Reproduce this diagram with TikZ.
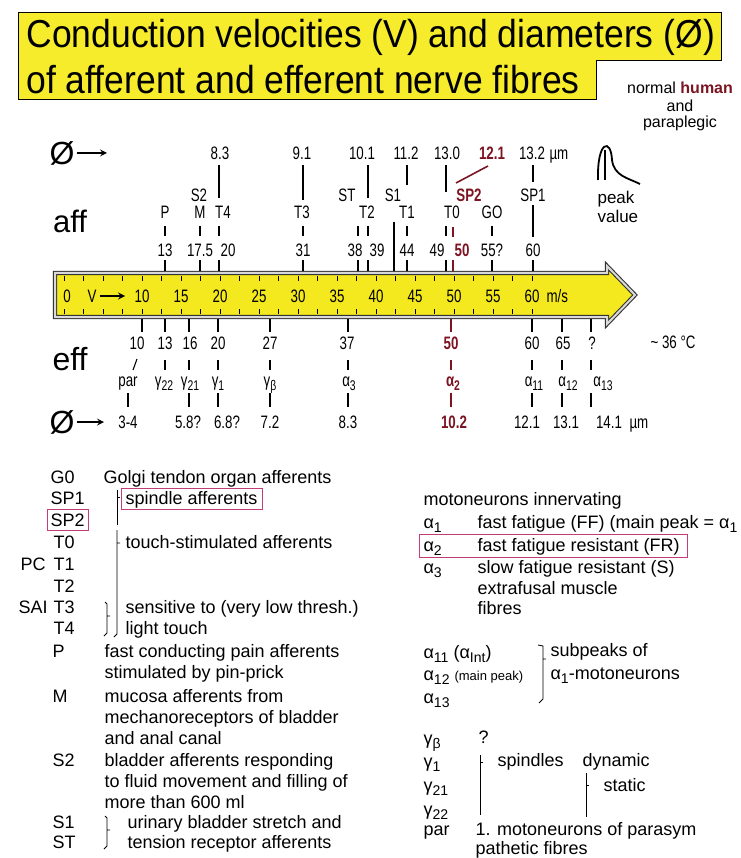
\documentclass[tikz,border=0pt]{standalone}
\usepackage{fontspec}
\setmainfont{Liberation Sans}
\newfontfamily\narrowsf[FakeStretch=0.74]{Liberation Sans}
\newfontfamily\titlesf[FakeStretch=0.91]{Liberation Sans}
\newcommand{\lowsub}[1]{\raisebox{-0.4ex}{\scalebox{0.78}{#1}}}
\definecolor{arrowyellow}{HTML}{F4E81E}
\definecolor{titleyellow}{HTML}{F6EC2C}
\definecolor{hotred}{HTML}{7C1422}
\definecolor{markpink}{HTML}{C23C78}
\tikzset{
  lab/.style={font=\narrowsf\fontsize{18}{18}\selectfont, inner sep=0pt, text height=13pt, text depth=0pt},
  hot/.style={text=hotred, font=\narrowsf\bfseries\fontsize{18}{18}\selectfont},
  leg/.style={font=\fontsize{18}{18}\selectfont, anchor=west, inner sep=0pt, text height=13pt, text depth=0pt},
  hotline/.style={draw=hotred, line width=2.2pt},
  pinkbox/.style={draw=markpink, line width=1pt},
}

\begin{document}
\begin{tikzpicture}[x=1pt,y=-1pt,line width=1.1pt]
\useasboundingbox (0,0) rectangle (740,858);

% title
\filldraw[fill=titleyellow, draw=black, line width=1pt] (18,13) -- (721,13) -- (721,61) -- (596,61) -- (596,100) -- (18,100) -- cycle;
\node[anchor=west, inner sep=0pt, font=\titlesf\fontsize{39}{39}\selectfont] (title1) at (26,37) {Conduction velocities (V) and diameters (Ø)};
\node[anchor=west, inner sep=0pt, font=\titlesf\fontsize{39}{39}\selectfont] (title2) at (26,80) {of afferent and efferent nerve fibres};

\node[font=\fontsize{16}{16}\selectfont] (human) at (680,88) {normal \textbf{\textcolor{hotred}{human}}};
\node[font=\fontsize{16}{16}\selectfont] (and) at (680,106) {and};
\node[font=\fontsize{16}{16}\selectfont] (para) at (680,123) {paraplegic};

% peak symbol
\draw[line width=1.8pt] (598,180) .. controls (597,140) and (611,138) .. (612,160) .. controls (614,176) and (628,178) .. (640,184);
\draw[line width=1.6pt] (605,150) -- (605,180);
\node[anchor=west, inner sep=0pt, font=\fontsize{17}{17}\selectfont] (peak) at (597,199) {peak};
\node[anchor=west, inner sep=0pt, font=\fontsize{17}{17}\selectfont] (value) at (597,216) {value};

% velocity arrow
\filldraw[fill=arrowyellow, draw=black!80, double=white!70!gray, double distance=2pt, line width=1.1pt] (55,273) -- (607,273) -- (607,266) -- (635,295) -- (607,324) -- (607,317) -- (55,317) -- cycle;
\foreach \v in {0,2.5,...,60} {
  \draw[line width=0.8pt] ({64+7.8*\v},276) -- ++(0,5);
  \draw[line width=0.8pt] ({64+7.8*\v},314) -- ++(0,-5);
}
\node[lab] (ax0) at (67,296) {0};
\node[lab] (axV) at (92,296) {V};
\draw[line width=2pt,-stealth] (axV.east) ++(3,0) -- (125,296);
\foreach \v in {10,15,...,60}
  \node[lab] (ax\v) at ({64+7.8*\v},296) {\v};
\node[lab, anchor=west] (axunit) at (546,296) {m/s};

% afferent side
\node[font=\fontsize{31}{31}\selectfont, inner sep=0pt] (aff) at (70,221) {aff};
\node[font=\fontsize{32}{32}\selectfont, inner sep=0pt] (diaA) at (62,153) {Ø};
\draw[line width=2pt,-stealth] (diaA.east) ++(2,0) -- (107,153);

\node[lab] (d83) at (220,153) {8.3};
\node[lab] (d91) at (302,153) {9.1};
\node[lab] (d101) at (362,153) {10.1};
\node[lab] (d112) at (406,153) {11.2};
\node[lab] (d130) at (447,153) {13.0};
\node[lab,hot] (d121) at (492,153) {12.1};
\node[lab] (d132) at (532,153) {13.2};
\node[lab, anchor=west] (dunitA) at (549,153) {µm};

\node[lab] (aS2) at (199,195) {S2};
\node[lab] (aST) at (347,195) {ST};
\node[lab] (aS1) at (393,195) {S1};
\node[lab,hot] (aSP2) at (469,195) {SP2};
\node[lab] (aSP1) at (533,195) {SP1};

\node[lab] (aP) at (165,212) {P};
\node[lab] (aM) at (200,212) {M};
\node[lab] (aT4) at (223,212) {T4};
\node[lab] (aT3) at (302,212) {T3};
\node[lab] (aT2) at (367,212) {T2};
\node[lab] (aT1) at (407,212) {T1};
\node[lab] (aT0) at (452,212) {T0};
\node[lab] (aGO) at (492,212) {GO};

\node[lab] (v13) at (165,250) {13};
\node[lab] (v175) at (200,250) {17.5};
\node[lab] (v20) at (228,250) {20};
\node[lab] (v31) at (303,250) {31};
\node[lab] (v38) at (355,250) {38};
\node[lab] (v39) at (377,250) {39};
\node[lab] (v44) at (407,250) {44};
\node[lab] (v49) at (437,250) {49};
\node[lab,hot] (v50) at (462,250) {50};
\node[lab] (v55) at (492,250) {55?};
\node[lab] (v60) at (533,250) {60};

\draw (219,165) -- (219,198);
\draw (303,165) -- (303,200);
\draw (368,165) -- (368,198);
\draw (407,165) -- (407,185);
\draw (446,165) -- (446,192);
\draw (533,165) -- (533,182);
\draw (533,205) -- (533,237);
\draw (394,222) -- (394,271);
\foreach \x in {165,200,219,303,358,368,407,446,492}
  \draw (\x,226) -- (\x,236);
\foreach \x in {165,200,219,303,358,368,407,446,492,533}
  \draw (\x,260) -- (\x,271);
\draw[hotline] (453,227) -- (453,237) (453,260) -- (453,271);
\draw[hotred, line width=1.6pt] (488,166) -- (456,183);

% efferent side
\node[font=\fontsize{32}{32}\selectfont, inner sep=0pt] (eff) at (70,359) {eff};
\node[font=\fontsize{32}{32}\selectfont, inner sep=0pt] (diaE) at (62,422) {Ø};
\draw[line width=2pt,-stealth] (diaE.east) ++(2,0) -- (104,422);

\node[lab] (e10) at (137,343) {10};
\node[lab] (e13) at (165,343) {13};
\node[lab] (e16) at (190,343) {16};
\node[lab] (e20) at (218,343) {20};
\node[lab] (e27) at (270,343) {27};
\node[lab] (e37) at (347,343) {37};
\node[lab,hot] (e50) at (451,343) {50};
\node[lab] (e60) at (532,343) {60};
\node[lab] (e65) at (563,343) {65};
\node[lab] (eq) at (592,343) {?};
\node[lab] (temp) at (673,342) {\textasciitilde\ 36 °C};

\node[lab] (ePar) at (128,380) {par};
\node[lab] (eG22) at (164,380) {γ\lowsub{22}};
\node[lab] (eG21) at (190,380) {γ\lowsub{21}};
\node[lab] (eG1) at (218,380) {γ\lowsub{1}};
\node[lab] (eGb) at (270,380) {γ\lowsub{β}};
\node[lab] (eA3) at (349,380) {α\lowsub{3}};
\node[lab,hot] (eA2) at (453,380) {α\lowsub{2}};
\node[lab] (eA11) at (534,380) {α\lowsub{11}};
\node[lab] (eA12) at (568,380) {α\lowsub{12}};
\node[lab] (eA13) at (603,380) {α\lowsub{13}};

\node[lab] (f34) at (128,422) {3-4};
\node[lab] (f58) at (188,422) {5.8?};
\node[lab] (f68) at (227,422) {6.8?};
\node[lab] (f72) at (270,422) {7.2};
\node[lab] (f83) at (348,422) {8.3};
\node[lab,hot] (f102) at (454,422) {10.2};
\node[lab] (f121) at (527,422) {12.1};
\node[lab] (f131) at (566,422) {13.1};
\node[lab] (f141) at (609,422) {14.1};
\node[lab, anchor=west] (dunitE) at (629,422) {µm};

\foreach \x in {142,165,189,218,270,348,532,562,591}
  \draw (\x,319) -- (\x,332);
\foreach \x in {165,189,218,270,348,532,562,591}
  \draw (\x,360) -- (\x,370);
\draw (137,359) -- (133,370);
\foreach \x in {128,189,218,270,348,532,562,591}
  \draw (\x,393) -- (\x,407);
\draw[hotline] (451,319) -- (451,332) (451,360) -- (451,370) (451,393) -- (451,407);

% legend, afferents
\node[leg] (kG0) at (50,477) {G0};
\node[leg] (kSP1) at (50,498) {SP1};
\node[leg] (kSP2) at (50,520) {SP2};
\node[leg] (kT0) at (53,542) {T0};
\node[leg] (kPC) at (20,564) {PC};
\node[leg] (kT1) at (53,564) {T1};
\node[leg] (kT2) at (53,586) {T2};
\node[leg] (kSAI) at (18,607) {SAI};
\node[leg] (kT3) at (53,607) {T3};
\node[leg] (kT4) at (53,628) {T4};
\node[leg] (kP) at (52,651) {P};
\node[leg] (kM) at (52,696) {M};
\node[leg] (kS2) at (52,760) {S2};
\node[leg] (kS1) at (52,822) {S1};
\node[leg] (kST) at (52,842) {ST};

\draw[pinkbox] (47,509) rectangle (88,530);
\draw[pinkbox] (121,488) rectangle (262,509);

\node[leg] (tG0) at (103,477) {Golgi tendon organ afferents};
\node[leg] (tSP) at (125,498) {spindle afferents};
\node[leg] (tT) at (125,542) {touch-stimulated afferents};
\node[leg] (tT3) at (125,607) {sensitive to (very low thresh.)};
\node[leg] (tT4) at (125,628) {light touch};
\node[leg] (tP1) at (104,651) {fast conducting pain afferents};
\node[leg] (tP2) at (104,672) {stimulated by pin-prick};
\node[leg] (tM1) at (104,696) {mucosa afferents from};
\node[leg] (tM2) at (104,717) {mechanoreceptors of bladder};
\node[leg] (tM3) at (104,738) {and anal canal};
\node[leg] (tS21) at (104,760) {bladder afferents responding};
\node[leg] (tS22) at (104,781) {to fluid movement and filling of};
\node[leg] (tS23) at (104,802) {more than 600 ml};
\node[leg] (tS1) at (127,822) {urinary bladder stretch and};
\node[leg] (tST) at (127,842) {tension receptor afferents};

\draw[line width=0.8pt] (117,490) -- (117,525) (117,497) -- (120,497);
\draw[line width=0.8pt] (117,530) -- (117,634) -- (114,637) (117,543) -- (120,543);
\draw[line width=0.8pt] (105,602) -- (107,604) -- (107,633) -- (104,636) (107,616) -- (110,616);
\draw[line width=0.8pt] (105,816) -- (107,818) -- (107,846) -- (104,849) (107,830) -- (110,830);

% legend, efferents
\node[leg] (mot) at (423,499) {motoneurons innervating};
\node[leg] (kA1) at (423,522) {α\lowsub{1}};
\node[leg] (kA2) at (423,545) {α\lowsub{2}};
\node[leg] (kA3) at (423,567) {α\lowsub{3}};
\node[leg] (tA1) at (477,522) {fast fatigue (FF) (main peak = α\lowsub{1}};
\node[leg] (tA2) at (477,545) {fast fatigue resistant (FR)};
\node[leg] (tA3) at (477,567) {slow fatigue resistant (S)};
\node[leg] (tA4) at (477,588) {extrafusal muscle};
\node[leg] (tA5) at (477,608) {fibres};
\draw[pinkbox] (419,534) rectangle (687,557);

\node[leg] (kA11) at (423,652) {α\lowsub{11} (α\lowsub{Int})};
\node[leg] (kA12) at (423,674) {α\lowsub{12} {\fontsize{13}{13}\selectfont(main peak)}};
\node[leg] (kA13) at (423,697) {α\lowsub{13}};
\node[leg] (tSub1) at (550,650) {subpeaks of};
\node[leg] (tSub2) at (550,673) {α\lowsub{1}-motoneurons};
\draw[line width=0.8pt] (538,645) -- (543,646) -- (543,699) -- (539,703) (543,659) -- (546,659);

\node[leg] (kGb) at (423,738) {γ\lowsub{β}};
\node[leg] (kG1) at (423,761) {γ\lowsub{1}};
\node[leg] (kG21) at (423,785) {γ\lowsub{21}};
\node[leg] (kG22) at (423,809) {γ\lowsub{22}};
\node[leg] (kPar) at (423,829) {par};
\node[leg] (tQ) at (478,737) {?};
\node[leg] (tSpin) at (497,760) {spindles};
\node[leg] (tDyn) at (582,760) {dynamic};
\node[leg] (tStat) at (603,785) {static};
\node[leg] (tPar1) at (475,829) {1. motoneurons of parasym};
\node[leg] (tPar2) at (475,848) {pathetic fibres};
\draw[line width=0.7pt] (480,755) -- (480,815) (480,762) -- (483,762);
\draw[line width=0.7pt] (586,773) -- (586,817) (586,785) -- (589,785);
\end{tikzpicture}
\end{document}
